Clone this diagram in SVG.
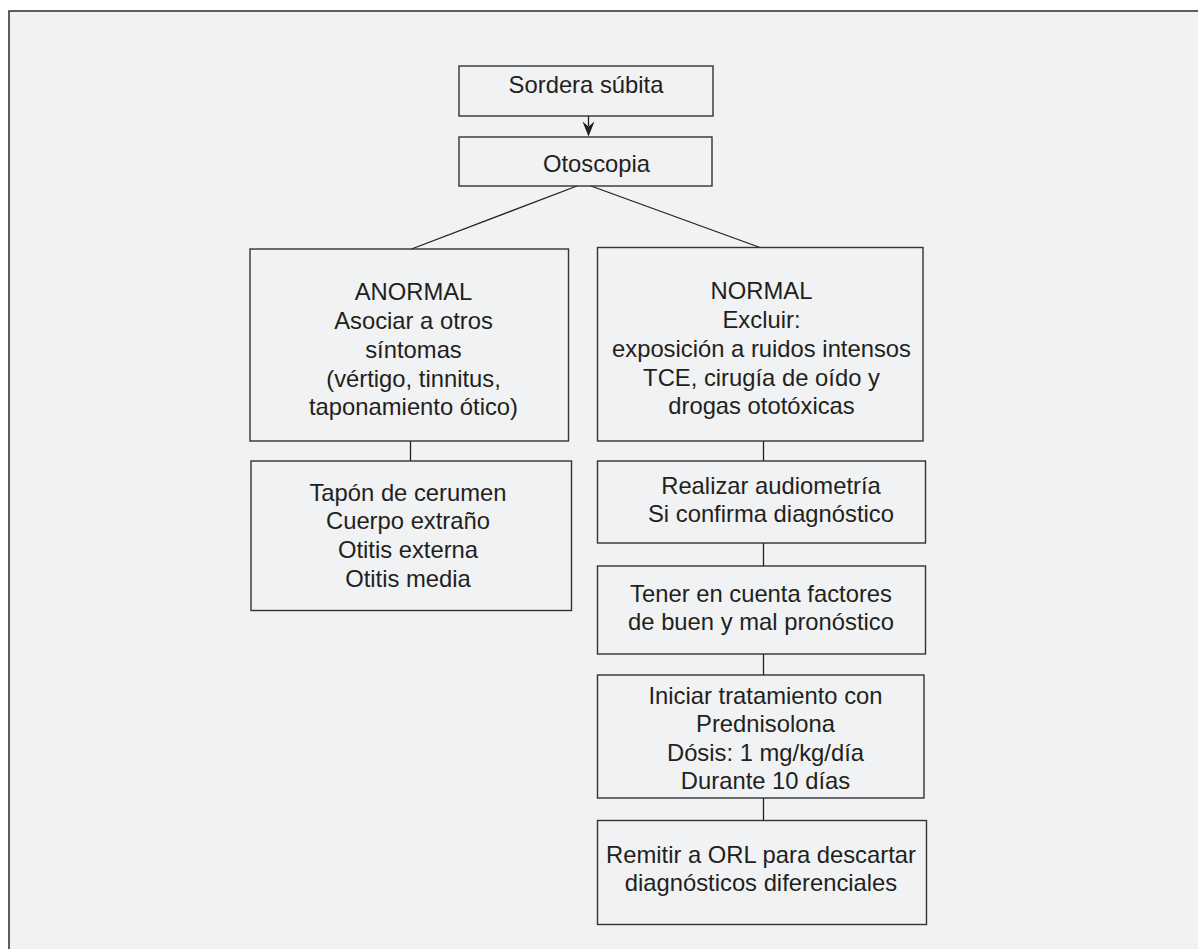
<svg xmlns="http://www.w3.org/2000/svg" width="1198" height="949" viewBox="0 0 1198 949">
<style>
.box{fill:none;stroke:#333;stroke-width:1.4}
.ln{fill:none;stroke:#231f20;stroke-width:1.3}
text{font-family:"Liberation Sans",Arial,sans-serif;font-size:23.8px;fill:#231f20;text-anchor:middle}
</style>
<rect x="0" y="0" width="1198" height="949" fill="#ffffff"/>
<rect x="9" y="11" width="1200" height="950" fill="#f0f2f3" stroke="#2b2b2b" stroke-width="1.5"/>
<g id="connectors">
<line class="ln" x1="588.5" y1="116" x2="588.5" y2="126" stroke-width="1.6"/>
<path d="M582.5,121.5 L588.5,136.5 L594.5,121.5 L588.5,126.5 Z" fill="#231f20"/>
<line class="ln" x1="577" y1="186" x2="411.5" y2="249"/>
<line class="ln" x1="591" y1="186" x2="760" y2="247.5"/>
<line class="ln" x1="410.5" y1="441" x2="410.5" y2="461"/>
<line class="ln" x1="763.5" y1="441" x2="763.5" y2="461"/>
<line class="ln" x1="763.5" y1="543" x2="763.5" y2="566"/>
<line class="ln" x1="763.5" y1="654" x2="763.5" y2="675"/>
<line class="ln" x1="763.5" y1="798" x2="763.5" y2="820"/>
</g>
<g id="sordera">
<rect class="box" x="459" y="66" width="254" height="50"/>
<text x="586" y="93.3">Sordera súbita</text>
</g>
<g id="otoscopia">
<rect class="box" x="459" y="137" width="253" height="49"/>
<text x="596.5" y="171.7">Otoscopia</text>
</g>
<g id="anormal">
<rect class="box" x="250" y="249" width="318.5" height="192"/>
<text x="413.5" y="300">ANORMAL</text>
<text x="413.5" y="329">Asociar a otros</text>
<text x="413.5" y="358">síntomas</text>
<text x="413.5" y="386.7">(vértigo, tinnitus,</text>
<text x="413.5" y="415">taponamiento ótico)</text>
</g>
<g id="causas">
<rect class="box" x="251" y="461" width="320.5" height="149.5"/>
<text x="408" y="500.7">Tapón de cerumen</text>
<text x="408" y="529.3">Cuerpo extraño</text>
<text x="408" y="558.3">Otitis externa</text>
<text x="408" y="586.7">Otitis media</text>
</g>
<g id="normal">
<rect class="box" x="597.5" y="247.5" width="325.5" height="193.5"/>
<text x="761.5" y="299.3">NORMAL</text>
<text x="761.5" y="328.3">Excluir:</text>
<text x="761.5" y="357.3">exposición a ruidos intensos</text>
<text x="761.5" y="385.7">TCE, cirugía de oído y</text>
<text x="761.5" y="414">drogas ototóxicas</text>
</g>
<g id="audiometria">
<rect class="box" x="597.5" y="461" width="328" height="82"/>
<text x="771" y="494">Realizar audiometría</text>
<text x="771" y="522.3">Si confirma diagnóstico</text>
</g>
<g id="pronostico">
<rect class="box" x="597.5" y="566" width="328" height="88"/>
<text x="761" y="602.3">Tener en cuenta factores</text>
<text x="761" y="630.3">de buen y mal pronóstico</text>
</g>
<g id="tratamiento">
<rect class="box" x="597.5" y="675" width="326.5" height="123"/>
<text x="765.5" y="704">Iniciar tratamiento con</text>
<text x="765.5" y="731.7">Prednisolona</text>
<text x="765.5" y="760.7">Dósis: 1 mg/kg/día</text>
<text x="765.5" y="789">Durante 10 días</text>
</g>
<g id="remitir">
<rect class="box" x="597.5" y="820.5" width="329" height="104"/>
<text x="761" y="862.7">Remitir a ORL para descartar</text>
<text x="761" y="891">diagnósticos diferenciales</text>
</g>
</svg>
